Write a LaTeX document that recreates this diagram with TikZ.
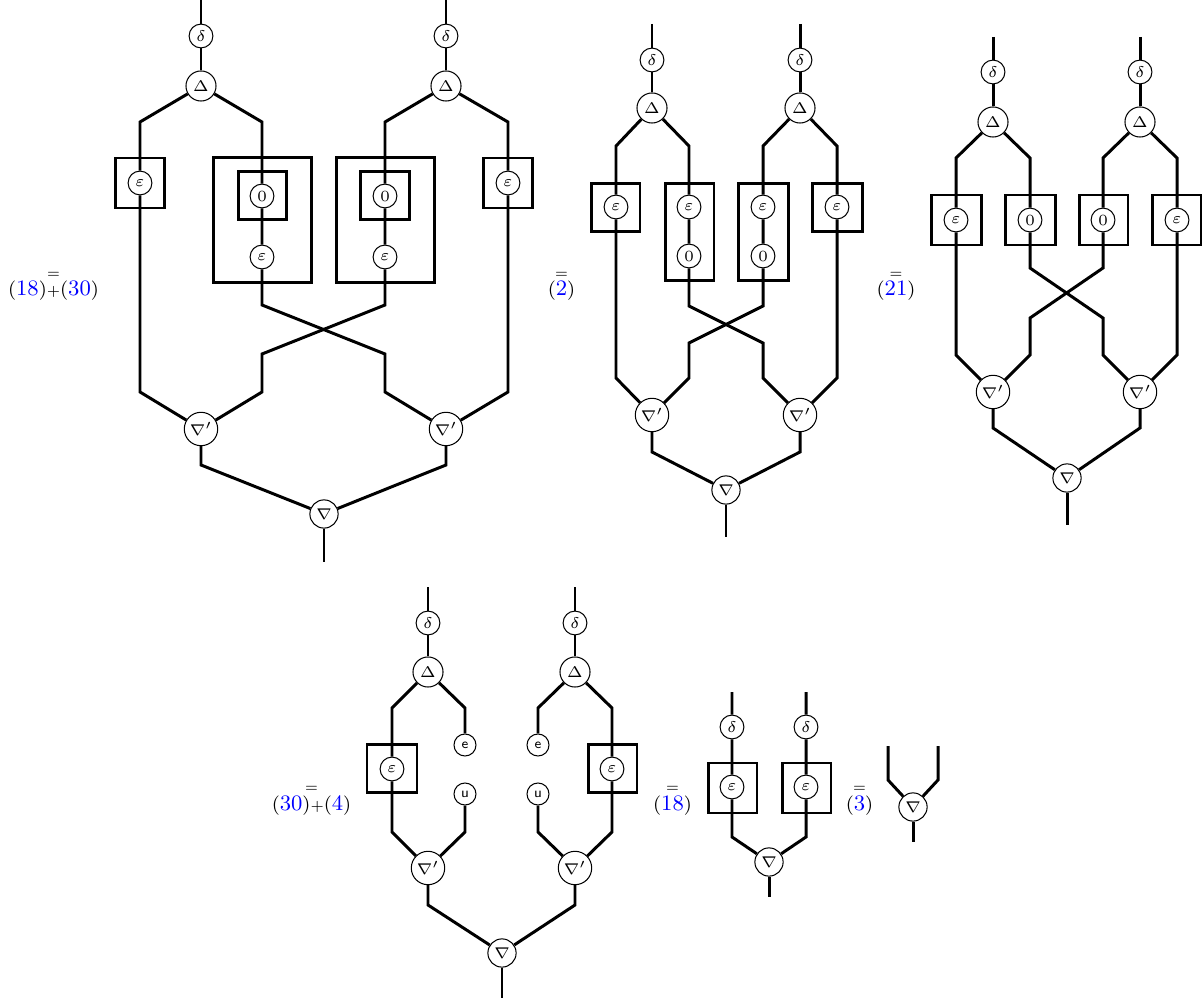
\documentclass[tikz,border=0pt]{standalone}
\usepackage{xcolor}
\usepackage{amsmath,amssymb}
\usepackage{tikz}
\usetikzlibrary{shapes,arrows}
\usetikzlibrary{positioning}
\tikzstyle{gen} = [draw, circle, line width=0.4pt, fill=white, inner sep=0pt,
minimum size=9.2pt, font=\fontsize{6}{7}\selectfont]
\tikzstyle{ugen} = [gen, minimum size=8.5pt, font=\fontsize{5.5}{6}\sffamily]
\tikzstyle{comul} = [gen, minimum size=11.6pt]
\tikzstyle{mul} = [gen, minimum size=10.9pt]
\tikzstyle{mulp} = [gen, minimum size=12.9pt]
\tikzstyle{line} = [draw, line width=1.15pt]
\tikzstyle{box} = [draw, rectangle, line width=1.15pt, inner sep=0pt]
\tikzstyle{lab} = [inner sep=0pt, anchor=base, font=\fontsize{7.5}{9}\selectfont]
\tikzstyle{eqs} = [inner sep=0pt, font=\tiny]
\newcommand{\refnum}[1]{(\textcolor{blue}{\fontsize{8.5}{9}\selectfont #1})}
\newcommand{\plusop}{{\fontsize{5.5}{6}\selectfont+}}

\begin{document}
\begin{tikzpicture}[x=0.386pt, y=-0.386pt]
      \useasboundingbox (0,0) rectangle (1202,1003);
      %% first diagram
      \node [gen] (d1L) at (201,36) {$\delta$};
      \node [comul] (D1L) at (201,86) {$\Delta$};
      \node [gen] (d1R) at (446,36) {$\delta$};
      \node [comul] (D1R) at (446,86) {$\Delta$};
      \node [box, minimum width=18.9pt, minimum height=19.3pt] (b1La) at (140,183) {};
      \node [box, minimum width=38.2pt, minimum height=47.9pt] (b1Lb) at (262.5,220) {};
      \node [box, minimum width=18.9pt, minimum height=18.9pt] (b1Lc) at (262.5,195.5) {};
      \node [box, minimum width=38.2pt, minimum height=47.9pt] (b1Rb) at (385.5,220) {};
      \node [box, minimum width=18.9pt, minimum height=18.9pt] (b1Rc) at (385,195.5) {};
      \node [box, minimum width=18.9pt, minimum height=19.3pt] (b1Ra) at (508,183) {};
      \node [gen] (e1L) at (140,183) {$\varepsilon$};
      \node [gen] (z1L) at (262,196) {$0$};
      \node [gen] (f1L) at (262,257) {$\varepsilon$};
      \node [gen] (z1R) at (385,196) {$0$};
      \node [gen] (f1R) at (385,257) {$\varepsilon$};
      \node [gen] (e1R) at (508,183) {$\varepsilon$};
      \node [mulp] (n1L) at (201,429) {$\nabla'$};
      \node [mulp] (n1R) at (446,429) {$\nabla'$};
      \node [mul] (m1) at (324,514) {$\nabla$};
      \coordinate (t1L) at (201,0); \coordinate (t1R) at (446,0);
      \coordinate (c1La) at (140,122); \coordinate (c1Lb) at (262,122);
      \coordinate (c1Ra) at (385,122); \coordinate (c1Rb) at (508,122);
      \coordinate (x1La) at (262,305); \coordinate (x1Lb) at (385,354); \coordinate (x1Lc) at (385,392);
      \coordinate (x1Ra) at (385,305); \coordinate (x1Rb) at (262,354); \coordinate (x1Rc) at (262,392);
      \coordinate (s1L) at (140,392); \coordinate (s1R) at (508,392);
      \coordinate (l1L) at (201,465); \coordinate (l1R) at (446,465);
      \coordinate (o1) at (324,562);
      \path [line] (t1L) -- (d1L) -- (D1L);
      \path [line] (t1R) -- (d1R) -- (D1R);
      \path [line] (D1L) -- (c1La) -- (e1L);
      \path [line] (D1L) -- (c1Lb) -- (z1L) -- (f1L);
      \path [line] (D1R) -- (c1Ra) -- (z1R) -- (f1R);
      \path [line] (D1R) -- (c1Rb) -- (e1R);
      \path [line] (f1L) -- (x1La) -- (x1Lb) -- (x1Lc) -- (n1R);
      \path [line] (f1R) -- (x1Ra) -- (x1Rb) -- (x1Rc) -- (n1L);
      \path [line] (e1L) -- (s1L) -- (n1L);
      \path [line] (e1R) -- (s1R) -- (n1R);
      \path [line] (n1L) -- (l1L) -- (m1);
      \path [line] (n1R) -- (l1R) -- (m1);
      \path [line] (m1) -- (o1);
      \node [lab] (L1) at (53.5,296) {\refnum{18}\plusop\refnum{30}};
      \node [eqs, above=1pt of L1] (q1) {$=$};
      %% second diagram
      \node [gen] (d2L) at (652,60) {$\delta$};
      \node [comul] (D2L) at (652,108) {$\Delta$};
      \node [gen] (d2R) at (800,60) {$\delta$};
      \node [comul] (D2R) at (800,108) {$\Delta$};
      \node [box, minimum width=18.9pt, minimum height=18.9pt] (b2La) at (615.5,207.5) {};
      \node [box, minimum width=18.9pt, minimum height=37.8pt] (b2Lb) at (689.5,232) {};
      \node [box, minimum width=19.3pt, minimum height=37.8pt] (b2Rb) at (763,232) {};
      \node [box, minimum width=19.3pt, minimum height=18.9pt] (b2Ra) at (837,207.5) {};
      \node [gen] (e2L) at (616,207) {$\varepsilon$};
      \node [gen] (f2L) at (689,207) {$\varepsilon$};
      \node [gen] (z2L) at (689,256) {$0$};
      \node [gen] (f2R) at (763,207) {$\varepsilon$};
      \node [gen] (z2R) at (763,256) {$0$};
      \node [gen] (e2R) at (837,207) {$\varepsilon$};
      \node [mulp] (n2L) at (652,415) {$\nabla'$};
      \node [mulp] (n2R) at (800,415) {$\nabla'$};
      \node [mul] (m2) at (726,490) {$\nabla$};
      \coordinate (t2L) at (652,24); \coordinate (t2R) at (800,24);
      \coordinate (c2La) at (616,146); \coordinate (c2Lb) at (689,146);
      \coordinate (c2Ra) at (763,146); \coordinate (c2Rb) at (837,146);
      \coordinate (x2La) at (689,306); \coordinate (x2Lb) at (763,343); \coordinate (x2Lc) at (763,378);
      \coordinate (x2Ra) at (763,306); \coordinate (x2Rb) at (689,343); \coordinate (x2Rc) at (689,378);
      \coordinate (s2L) at (616,378); \coordinate (s2R) at (837,378);
      \coordinate (l2L) at (652,452); \coordinate (l2R) at (800,452);
      \coordinate (o2) at (726,537);
      \path [line] (t2L) -- (d2L) -- (D2L);
      \path [line] (t2R) -- (d2R) -- (D2R);
      \path [line] (D2L) -- (c2La) -- (e2L);
      \path [line] (D2L) -- (c2Lb) -- (f2L) -- (z2L);
      \path [line] (D2R) -- (c2Ra) -- (f2R) -- (z2R);
      \path [line] (D2R) -- (c2Rb) -- (e2R);
      \path [line] (z2L) -- (x2La) -- (x2Lb) -- (x2Lc) -- (n2R);
      \path [line] (z2R) -- (x2Ra) -- (x2Rb) -- (x2Rc) -- (n2L);
      \path [line] (e2L) -- (s2L) -- (n2L);
      \path [line] (e2R) -- (s2R) -- (n2R);
      \path [line] (n2L) -- (l2L) -- (m2);
      \path [line] (n2R) -- (l2R) -- (m2);
      \path [line] (m2) -- (o2);
      \node [lab] (L2) at (561.5,296) {\refnum{2}};
      \node [eqs, above=1pt of L2] (q2) {$=$};
      %% third diagram
      \node [gen] (d3L) at (993,72) {$\delta$};
      \node [comul] (D3L) at (993,122) {$\Delta$};
      \node [gen] (d3R) at (1140,72) {$\delta$};
      \node [comul] (D3R) at (1140,122) {$\Delta$};
      \node [box, minimum width=19.3pt, minimum height=19.3pt] (b3La) at (956,220) {};
      \node [box, minimum width=19.3pt, minimum height=19.3pt] (b3Lb) at (1030,220) {};
      \node [box, minimum width=18.9pt, minimum height=19.3pt] (b3Rb) at (1103.5,220) {};
      \node [box, minimum width=18.9pt, minimum height=19.3pt] (b3Ra) at (1176.5,220) {};
      \node [gen] (e3L) at (956,220) {$\varepsilon$};
      \node [gen] (z3L) at (1030,220) {$0$};
      \node [gen] (z3R) at (1103,220) {$0$};
      \node [gen] (e3R) at (1177,220) {$\varepsilon$};
      \node [mulp] (n3L) at (993,392) {$\nabla'$};
      \node [mulp] (n3R) at (1140,392) {$\nabla'$};
      \node [mul] (m3) at (1067,478) {$\nabla$};
      \coordinate (t3L) at (993,37); \coordinate (t3R) at (1140,37);
      \coordinate (c3La) at (956,158); \coordinate (c3Lb) at (1030,158);
      \coordinate (c3Ra) at (1103,158); \coordinate (c3Rb) at (1177,158);
      \coordinate (x3La) at (1030,268); \coordinate (x3Lb) at (1103,318); \coordinate (x3Lc) at (1103,355);
      \coordinate (x3Ra) at (1103,268); \coordinate (x3Rb) at (1030,318); \coordinate (x3Rc) at (1030,355);
      \coordinate (s3L) at (956,355); \coordinate (s3R) at (1177,355);
      \coordinate (l3L) at (993,428); \coordinate (l3R) at (1140,428);
      \coordinate (o3) at (1067,525);
      \path [line] (t3L) -- (d3L) -- (D3L);
      \path [line] (t3R) -- (d3R) -- (D3R);
      \path [line] (D3L) -- (c3La) -- (e3L);
      \path [line] (D3L) -- (c3Lb) -- (z3L);
      \path [line] (D3R) -- (c3Ra) -- (z3R);
      \path [line] (D3R) -- (c3Rb) -- (e3R);
      \path [line] (z3L) -- (x3La) -- (x3Lb) -- (x3Lc) -- (n3R);
      \path [line] (z3R) -- (x3Ra) -- (x3Rb) -- (x3Rc) -- (n3L);
      \path [line] (e3L) -- (s3L) -- (n3L);
      \path [line] (e3R) -- (s3R) -- (n3R);
      \path [line] (n3L) -- (l3L) -- (m3);
      \path [line] (n3R) -- (l3R) -- (m3);
      \path [line] (m3) -- (o3);
      \node [lab] (L3) at (896,296) {\refnum{21}};
      \node [eqs, above=1pt of L3] (q3) {$=$};
      %% fourth diagram
      \node [gen] (d4L) at (428,623) {$\delta$};
      \node [comul] (D4L) at (428,672) {$\Delta$};
      \node [gen] (d4R) at (575,623) {$\delta$};
      \node [comul] (D4R) at (575,672) {$\Delta$};
      \node [box, minimum width=19.3pt, minimum height=18.9pt] (b4L) at (392,768.5) {};
      \node [box, minimum width=18.9pt, minimum height=18.9pt] (b4R) at (612.5,768.5) {};
      \node [gen] (e4L) at (392,769) {$\varepsilon$};
      \node [ugen] (a4L) at (465,745) {e};
      \node [ugen] (u4L) at (465,794) {u};
      \node [ugen] (a4R) at (538,745) {e};
      \node [ugen] (u4R) at (538,794) {u};
      \node [gen] (e4R) at (612,769) {$\varepsilon$};
      \node [mulp] (n4L) at (428,868) {$\nabla'$};
      \node [mulp] (n4R) at (575,868) {$\nabla'$};
      \node [mul] (m4) at (502,953) {$\nabla$};
      \coordinate (t4L) at (428,587); \coordinate (t4R) at (575,587);
      \coordinate (c4La) at (392,708); \coordinate (c4Lb) at (465,708);
      \coordinate (c4Ra) at (538,708); \coordinate (c4Rb) at (612,708);
      \coordinate (s4La) at (392,832); \coordinate (s4Lb) at (465,832);
      \coordinate (s4Ra) at (538,832); \coordinate (s4Rb) at (612,832);
      \coordinate (l4L) at (428,905); \coordinate (l4R) at (575,905);
      \coordinate (o4) at (502,998);
      \path [line] (t4L) -- (d4L) -- (D4L);
      \path [line] (t4R) -- (d4R) -- (D4R);
      \path [line] (D4L) -- (c4La) -- (e4L);
      \path [line] (D4L) -- (c4Lb) -- (a4L);
      \path [line] (D4R) -- (c4Ra) -- (a4R);
      \path [line] (D4R) -- (c4Rb) -- (e4R);
      \path [line] (e4L) -- (s4La) -- (n4L);
      \path [line] (u4L) -- (s4Lb) -- (n4L);
      \path [line] (u4R) -- (s4Ra) -- (n4R);
      \path [line] (e4R) -- (s4Rb) -- (n4R);
      \path [line] (n4L) -- (l4L) -- (m4);
      \path [line] (n4R) -- (l4R) -- (m4);
      \path [line] (m4) -- (o4);
      \node [lab] (L4) at (311.5,810) {\refnum{30}\plusop\refnum{4}};
      \node [eqs, above=1pt of L4] (q4) {$=$};
      %% fifth diagram
      \node [gen] (d5L) at (732,727) {$\delta$};
      \node [gen] (d5R) at (806,727) {$\delta$};
      \node [box, minimum width=18.9pt, minimum height=19.3pt] (b5L) at (732.5,788) {};
      \node [box, minimum width=18.9pt, minimum height=19.3pt] (b5R) at (806.5,788) {};
      \node [gen] (e5L) at (732,787) {$\varepsilon$};
      \node [gen] (e5R) at (806,787) {$\varepsilon$};
      \node [mul] (m5) at (769,862) {$\nabla$};
      \coordinate (t5L) at (732,692); \coordinate (t5R) at (806,692);
      \coordinate (s5L) at (732,837); \coordinate (s5R) at (806,837);
      \coordinate (o5) at (769,897);
      \path [line] (t5L) -- (d5L) -- (e5L) -- (s5L) -- (m5);
      \path [line] (t5R) -- (d5R) -- (e5R) -- (s5R) -- (m5);
      \path [line] (m5) -- (o5);
      \node [lab] (L5) at (672.5,810) {\refnum{18}};
      \node [eqs, above=1pt of L5] (q5) {$=$};
      %% sixth diagram
      \node [mul] (m6) at (913,807) {$\nabla$};
      \coordinate (t6L) at (888,746); \coordinate (t6R) at (938,746);
      \coordinate (s6L) at (888,780); \coordinate (s6R) at (938,780);
      \coordinate (o6) at (913,842);
      \path [line] (t6L) -- (s6L) -- (m6);
      \path [line] (t6R) -- (s6R) -- (m6);
      \path [line] (m6) -- (o6);
      \node [lab] (L6) at (859.5,810) {\refnum{3}};
      \node [eqs, above=1pt of L6] (q6) {$=$};
    \end{tikzpicture}
\end{document}
